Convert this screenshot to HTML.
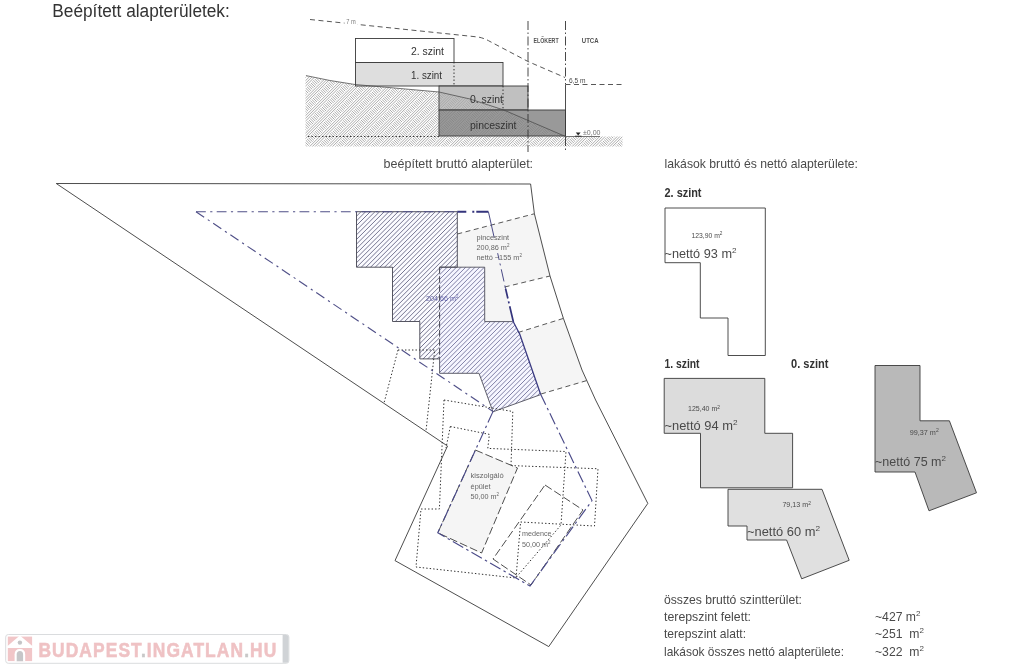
<!DOCTYPE html>
<html lang="hu">
<head>
<meta charset="utf-8">
<title>Beépített alapterületek</title>
<style>
  html, body { margin: 0; padding: 0; background: #ffffff; }
  body { width: 1024px; height: 669px; overflow: hidden; position: relative;
         font-family: "Liberation Sans", sans-serif; }
  svg { position: absolute; left: 0; top: 0; display: block; will-change: transform; }
  text { font-family: "Liberation Sans", sans-serif; }
  .t  { fill: #333333; }
  .tl { fill: #4a4a4a; }
  .ln { stroke: #3a3a3a; stroke-width: 0.9; }
  .nf { fill: none; }
  .dot { stroke: #2e2e2e; stroke-width: 1; fill: none; stroke-dasharray: 1.4 2.1; }
  .dsh { stroke: #444; stroke-width: 0.9; fill: none; stroke-dasharray: 5 3.5; }
  .bl  { stroke: #505088; stroke-width: 1.15; fill: none; stroke-dasharray: 9.8 4.4 2.2 4.3; }
</style>
</head>
<body>
<svg width="1024" height="669" viewBox="0 0 1024 669">
  <defs>
    <clipPath id="earthclip"><path d="M305.5 75.5 L330 80.5 L355 84.5 L400 88.5 L439 92 L470 99 L503.75 110 L565.5 136.5 L622.5 136.5 L622.5 146.5 L305.5 146.5 Z"/></clipPath>
    <clipPath id="bhA"><path d="M356.5 211.7 H457.3 V267.2 H439.6 V358.9 H419.8 V321.5 H392.5 V267.2 H356.5 Z"/></clipPath>
    <clipPath id="bhB"><path d="M439.6 267.2 H484.7 V321.6 H512.5 L519.7 334 L540.7 394.6 L493 411.8 L479 373.3 H439.6 Z"/></clipPath>
  <clipPath id="tickbands"><path d="M140.75 147.75L214.50 74.00L222.80 74.00L149.05 147.75ZM158.25 147.75L232.00 74.00L240.30 74.00L166.55 147.75ZM175.75 147.75L249.50 74.00L257.80 74.00L184.05 147.75ZM193.25 147.75L267.00 74.00L275.30 74.00L201.55 147.75ZM210.75 147.75L284.50 74.00L292.80 74.00L219.05 147.75ZM228.25 147.75L302.00 74.00L310.30 74.00L236.55 147.75ZM245.75 147.75L319.50 74.00L327.80 74.00L254.05 147.75ZM263.25 147.75L337.00 74.00L345.30 74.00L271.55 147.75ZM280.75 147.75L354.50 74.00L362.80 74.00L289.05 147.75ZM298.25 147.75L372.00 74.00L380.30 74.00L306.55 147.75ZM315.75 147.75L389.50 74.00L397.80 74.00L324.05 147.75ZM333.25 147.75L407.00 74.00L415.30 74.00L341.55 147.75ZM350.75 147.75L424.50 74.00L432.80 74.00L359.05 147.75ZM368.25 147.75L442.00 74.00L450.30 74.00L376.55 147.75ZM385.75 147.75L459.50 74.00L467.80 74.00L394.05 147.75ZM403.25 147.75L477.00 74.00L485.30 74.00L411.55 147.75ZM420.75 147.75L494.50 74.00L502.80 74.00L429.05 147.75ZM438.25 147.75L512.00 74.00L520.30 74.00L446.55 147.75ZM455.75 147.75L529.50 74.00L537.80 74.00L464.05 147.75ZM473.25 147.75L547.00 74.00L555.30 74.00L481.55 147.75ZM490.75 147.75L564.50 74.00L572.80 74.00L499.05 147.75ZM508.25 147.75L582.00 74.00L590.30 74.00L516.55 147.75ZM525.75 147.75L599.50 74.00L607.80 74.00L534.05 147.75ZM543.25 147.75L617.00 74.00L625.30 74.00L551.55 147.75ZM560.75 147.75L634.50 74.00L642.80 74.00L569.05 147.75ZM578.25 147.75L652.00 74.00L660.30 74.00L586.55 147.75ZM595.75 147.75L669.50 74.00L677.80 74.00L604.05 147.75ZM613.25 147.75L687.00 74.00L695.30 74.00L621.55 147.75ZM630.75 147.75L704.50 74.00L712.80 74.00L639.05 147.75Z"/></clipPath>
  </defs>

  <!-- ===================== TITLE ===================== -->
  <text x="52.3" y="17.2" font-size="18" class="t" textLength="177.5" lengthAdjust="spacingAndGlyphs">Beépített alapterületek:</text>

  <!-- ===================== SECTION ===================== -->
  <g id="section">
    <!-- ground -->
    <g clip-path="url(#earthclip)"><path d="M133.45 147.75L207.20 74.00M136.15 147.75L209.90 74.00M138.85 147.75L212.60 74.00M150.95 147.75L224.70 74.00M153.65 147.75L227.40 74.00M156.35 147.75L230.10 74.00M168.45 147.75L242.20 74.00M171.15 147.75L244.90 74.00M173.85 147.75L247.60 74.00M185.95 147.75L259.70 74.00M188.65 147.75L262.40 74.00M191.35 147.75L265.10 74.00M203.45 147.75L277.20 74.00M206.15 147.75L279.90 74.00M208.85 147.75L282.60 74.00M220.95 147.75L294.70 74.00M223.65 147.75L297.40 74.00M226.35 147.75L300.10 74.00M238.45 147.75L312.20 74.00M241.15 147.75L314.90 74.00M243.85 147.75L317.60 74.00M255.95 147.75L329.70 74.00M258.65 147.75L332.40 74.00M261.35 147.75L335.10 74.00M273.45 147.75L347.20 74.00M276.15 147.75L349.90 74.00M278.85 147.75L352.60 74.00M290.95 147.75L364.70 74.00M293.65 147.75L367.40 74.00M296.35 147.75L370.10 74.00M308.45 147.75L382.20 74.00M311.15 147.75L384.90 74.00M313.85 147.75L387.60 74.00M325.95 147.75L399.70 74.00M328.65 147.75L402.40 74.00M331.35 147.75L405.10 74.00M343.45 147.75L417.20 74.00M346.15 147.75L419.90 74.00M348.85 147.75L422.60 74.00M360.95 147.75L434.70 74.00M363.65 147.75L437.40 74.00M366.35 147.75L440.10 74.00M378.45 147.75L452.20 74.00M381.15 147.75L454.90 74.00M383.85 147.75L457.60 74.00M395.95 147.75L469.70 74.00M398.65 147.75L472.40 74.00M401.35 147.75L475.10 74.00M413.45 147.75L487.20 74.00M416.15 147.75L489.90 74.00M418.85 147.75L492.60 74.00M430.95 147.75L504.70 74.00M433.65 147.75L507.40 74.00M436.35 147.75L510.10 74.00M448.45 147.75L522.20 74.00M451.15 147.75L524.90 74.00M453.85 147.75L527.60 74.00M465.95 147.75L539.70 74.00M468.65 147.75L542.40 74.00M471.35 147.75L545.10 74.00M483.45 147.75L557.20 74.00M486.15 147.75L559.90 74.00M488.85 147.75L562.60 74.00M500.95 147.75L574.70 74.00M503.65 147.75L577.40 74.00M506.35 147.75L580.10 74.00M518.45 147.75L592.20 74.00M521.15 147.75L594.90 74.00M523.85 147.75L597.60 74.00M535.95 147.75L609.70 74.00M538.65 147.75L612.40 74.00M541.35 147.75L615.10 74.00M553.45 147.75L627.20 74.00M556.15 147.75L629.90 74.00M558.85 147.75L632.60 74.00M570.95 147.75L644.70 74.00M573.65 147.75L647.40 74.00M576.35 147.75L650.10 74.00M588.45 147.75L662.20 74.00M591.15 147.75L664.90 74.00M593.85 147.75L667.60 74.00M605.95 147.75L679.70 74.00M608.65 147.75L682.40 74.00M611.35 147.75L685.10 74.00M623.45 147.75L697.20 74.00M626.15 147.75L699.90 74.00M628.85 147.75L702.60 74.00" stroke="#8c8c8c" stroke-width="0.72" fill="none"/><g clip-path="url(#tickbands)"><path d="M224.00 74.00L297.75 147.75M226.60 74.00L300.35 147.75M229.20 74.00L302.95 147.75M231.80 74.00L305.55 147.75M234.40 74.00L308.15 147.75M237.00 74.00L310.75 147.75M239.60 74.00L313.35 147.75M242.20 74.00L315.95 147.75M244.80 74.00L318.55 147.75M247.40 74.00L321.15 147.75M250.00 74.00L323.75 147.75M252.60 74.00L326.35 147.75M255.20 74.00L328.95 147.75M257.80 74.00L331.55 147.75M260.40 74.00L334.15 147.75M263.00 74.00L336.75 147.75M265.60 74.00L339.35 147.75M268.20 74.00L341.95 147.75M270.80 74.00L344.55 147.75M273.40 74.00L347.15 147.75M276.00 74.00L349.75 147.75M278.60 74.00L352.35 147.75M281.20 74.00L354.95 147.75M283.80 74.00L357.55 147.75M286.40 74.00L360.15 147.75M289.00 74.00L362.75 147.75M291.60 74.00L365.35 147.75M294.20 74.00L367.95 147.75M296.80 74.00L370.55 147.75M299.40 74.00L373.15 147.75M302.00 74.00L375.75 147.75M304.60 74.00L378.35 147.75M307.20 74.00L380.95 147.75M309.80 74.00L383.55 147.75M312.40 74.00L386.15 147.75M315.00 74.00L388.75 147.75M317.60 74.00L391.35 147.75M320.20 74.00L393.95 147.75M322.80 74.00L396.55 147.75M325.40 74.00L399.15 147.75M328.00 74.00L401.75 147.75M330.60 74.00L404.35 147.75M333.20 74.00L406.95 147.75M335.80 74.00L409.55 147.75M338.40 74.00L412.15 147.75M341.00 74.00L414.75 147.75M343.60 74.00L417.35 147.75M346.20 74.00L419.95 147.75M348.80 74.00L422.55 147.75M351.40 74.00L425.15 147.75M354.00 74.00L427.75 147.75M356.60 74.00L430.35 147.75M359.20 74.00L432.95 147.75M361.80 74.00L435.55 147.75M364.40 74.00L438.15 147.75M367.00 74.00L440.75 147.75M369.60 74.00L443.35 147.75M372.20 74.00L445.95 147.75M374.80 74.00L448.55 147.75M377.40 74.00L451.15 147.75M380.00 74.00L453.75 147.75M382.60 74.00L456.35 147.75M385.20 74.00L458.95 147.75M387.80 74.00L461.55 147.75M390.40 74.00L464.15 147.75M393.00 74.00L466.75 147.75M395.60 74.00L469.35 147.75M398.20 74.00L471.95 147.75M400.80 74.00L474.55 147.75M403.40 74.00L477.15 147.75M406.00 74.00L479.75 147.75M408.60 74.00L482.35 147.75M411.20 74.00L484.95 147.75M413.80 74.00L487.55 147.75M416.40 74.00L490.15 147.75M419.00 74.00L492.75 147.75M421.60 74.00L495.35 147.75M424.20 74.00L497.95 147.75M426.80 74.00L500.55 147.75M429.40 74.00L503.15 147.75M432.00 74.00L505.75 147.75M434.60 74.00L508.35 147.75M437.20 74.00L510.95 147.75M439.80 74.00L513.55 147.75M442.40 74.00L516.15 147.75M445.00 74.00L518.75 147.75M447.60 74.00L521.35 147.75M450.20 74.00L523.95 147.75M452.80 74.00L526.55 147.75M455.40 74.00L529.15 147.75M458.00 74.00L531.75 147.75M460.60 74.00L534.35 147.75M463.20 74.00L536.95 147.75M465.80 74.00L539.55 147.75M468.40 74.00L542.15 147.75M471.00 74.00L544.75 147.75M473.60 74.00L547.35 147.75M476.20 74.00L549.95 147.75M478.80 74.00L552.55 147.75M481.40 74.00L555.15 147.75M484.00 74.00L557.75 147.75M486.60 74.00L560.35 147.75M489.20 74.00L562.95 147.75M491.80 74.00L565.55 147.75M494.40 74.00L568.15 147.75M497.00 74.00L570.75 147.75M499.60 74.00L573.35 147.75M502.20 74.00L575.95 147.75M504.80 74.00L578.55 147.75M507.40 74.00L581.15 147.75M510.00 74.00L583.75 147.75M512.60 74.00L586.35 147.75M515.20 74.00L588.95 147.75M517.80 74.00L591.55 147.75M520.40 74.00L594.15 147.75M523.00 74.00L596.75 147.75M525.60 74.00L599.35 147.75M528.20 74.00L601.95 147.75M530.80 74.00L604.55 147.75M533.40 74.00L607.15 147.75M536.00 74.00L609.75 147.75M538.60 74.00L612.35 147.75M541.20 74.00L614.95 147.75M543.80 74.00L617.55 147.75M546.40 74.00L620.15 147.75M549.00 74.00L622.75 147.75M551.60 74.00L625.35 147.75M554.20 74.00L627.95 147.75M556.80 74.00L630.55 147.75M559.40 74.00L633.15 147.75M562.00 74.00L635.75 147.75M564.60 74.00L638.35 147.75M567.20 74.00L640.95 147.75M569.80 74.00L643.55 147.75M572.40 74.00L646.15 147.75M575.00 74.00L648.75 147.75M577.60 74.00L651.35 147.75M580.20 74.00L653.95 147.75M582.80 74.00L656.55 147.75M585.40 74.00L659.15 147.75M588.00 74.00L661.75 147.75M590.60 74.00L664.35 147.75M593.20 74.00L666.95 147.75M595.80 74.00L669.55 147.75M598.40 74.00L672.15 147.75M601.00 74.00L674.75 147.75M603.60 74.00L677.35 147.75M606.20 74.00L679.95 147.75M608.80 74.00L682.55 147.75M611.40 74.00L685.15 147.75M614.00 74.00L687.75 147.75M616.60 74.00L690.35 147.75M619.20 74.00L692.95 147.75M621.80 74.00L695.55 147.75M624.40 74.00L698.15 147.75M627.00 74.00L700.75 147.75M629.60 74.00L703.35 147.75M632.20 74.00L705.95 147.75" stroke="#8c8c8c" stroke-width="0.72" fill="none"/></g></g>
    <!-- level boxes -->
    <rect x="355.5" y="38.5" width="98.5" height="24" fill="#ffffff" class="ln"/>
    <rect x="355.5" y="62.5" width="147.5" height="23.5" fill="#dedede" fill-opacity="1" class="ln"/>
    <rect x="439" y="86" width="89" height="24" fill="#a8a8a8" fill-opacity="0.72" class="ln"/>
    <rect x="439" y="110" width="126.5" height="26" fill="#808080" fill-opacity="0.8" class="ln"/>
    <!-- terrain line -->
    <path d="M306 75.6 L330 80.5 L355 84.5 L400 88.5 L439 92 L470 99 L503.75 110 L565.5 136.5 L600 136.5" fill="none" stroke="#4a4a4a" stroke-width="0.75"/>
    <!-- dotted inner verticals -->
    <path d="M454 62V86M503 86V110" class="dot"/>
    <!-- dotted datum line -->
    <path d="M308 136.5H439" class="dot"/>
    <!-- 7 m dashed envelope -->
    <path d="M310 19.5 L478 37 Q484 38 490 41.5 L528 61.5 L565 77.5" class="dsh" stroke-width="0.8"/>
    <!-- 6,5 m dashed -->
    <path d="M565.5 84.5H623" class="dsh" stroke-width="0.8"/>
    <!-- street wall -->
    <path d="M565.5 84.5V136.5" class="ln nf"/>
    <!-- dash-dot verticals -->
    <path d="M528 21V152M565.5 21V84M565.5 137V152" stroke="#333" stroke-width="0.9" fill="none" stroke-dasharray="9 2.5 1.5 2.5"/>
    <!-- +-0,00 marker -->
    <path d="M575.8 132.6H580.6L578.2 135.4Z" fill="#222"/>
    <path d="M575 136.2H581.5" stroke="#222" stroke-width="0.8"/>
    <!-- labels -->
    <text x="411" y="54.6" font-size="11.5" class="t" textLength="33" lengthAdjust="spacingAndGlyphs">2. szint</text>
    <text x="411" y="78.5" font-size="11.5" class="t" textLength="31" lengthAdjust="spacingAndGlyphs">1. szint</text>
    <text x="470" y="103" font-size="11.5" class="t" textLength="33" lengthAdjust="spacingAndGlyphs">0. szint</text>
    <text x="470" y="129" font-size="11.5" class="t" textLength="46.5" lengthAdjust="spacingAndGlyphs">pinceszint</text>
    <text x="533.6" y="43" font-size="7.4" font-weight="bold" class="t" fill-opacity="0.85" textLength="25" lengthAdjust="spacingAndGlyphs">ELŐKERT</text>
    <text x="581.8" y="43" font-size="7.4" font-weight="bold" class="t" fill-opacity="0.85" textLength="16.8" lengthAdjust="spacingAndGlyphs">UTCA</text>
    <rect x="344.5" y="18.5" width="13" height="7.5" fill="#fff"/><text x="346.2" y="24.3" font-size="6.5" class="tl" fill-opacity="0.75" textLength="9.5" lengthAdjust="spacingAndGlyphs">7 m</text>
    <text x="569" y="82.6" font-size="7" class="tl" textLength="16.5" lengthAdjust="spacingAndGlyphs">6,5 m</text>
    <text x="583" y="135.4" font-size="7" class="tl" fill-opacity="0.8" textLength="17.5" lengthAdjust="spacingAndGlyphs">±0,00</text>
  </g>

  <!-- ===================== SITE PLAN ===================== -->
  <g id="site">
    <text x="383.6" y="168.3" font-size="12.2" class="tl" textLength="149.5" lengthAdjust="spacingAndGlyphs">beépített bruttó alapterület:</text>

    <!-- light grey front-garden zones -->
    <path d="M457.3 234 L534.4 213.75 L550 276 L504.7 287 L505.6 288.75 L513.4 322 H484.6 V267.2 H457.3 Z" fill="#f5f5f5"/>
    <path d="M518 332.5 L563.4 318.4 L582 370 L587 381 L540 394 Z" fill="#f5f5f5"/>

    <!-- plot boundary -->
    <path d="M56.25 183.5 L530.6 184 L534.4 213.75 L550 276 L563.4 318.4 L582 370 L595.6 400 L647.8 503.4 L548.75 646.6 L395 560.6 L447.5 446 Z" class="ln nf" stroke-width="0.85"/>

    <!-- hatched main building -->
    <path d="M356.5 211.7 H457.3 V267.2 H439.6 V358.9 H419.8 V321.5 H392.5 V267.2 H356.5 Z" fill="#fbfbff"/>
    <path d="M439.6 267.2 H484.7 V321.6 H512.5 L519.7 334 L540.7 394.6 L493 411.8 L479 373.3 H439.6 Z" fill="#f6f6ff"/>
    <g clip-path="url(#bhA)"><path d="M355.0 208.40L460.0 103.40M355.0 213.05L460.0 108.05M355.0 217.70L460.0 112.70M355.0 222.35L460.0 117.35M355.0 227.00L460.0 122.00M355.0 231.65L460.0 126.65M355.0 236.30L460.0 131.30M355.0 240.95L460.0 135.95M355.0 245.60L460.0 140.60M355.0 250.25L460.0 145.25M355.0 254.90L460.0 149.90M355.0 259.55L460.0 154.55M355.0 264.20L460.0 159.20M355.0 268.85L460.0 163.85M355.0 273.50L460.0 168.50M355.0 278.15L460.0 173.15M355.0 282.80L460.0 177.80M355.0 287.45L460.0 182.45M355.0 292.10L460.0 187.10M355.0 296.75L460.0 191.75M355.0 301.40L460.0 196.40M355.0 306.05L460.0 201.05M355.0 310.70L460.0 205.70M355.0 315.35L460.0 210.35M355.0 320.00L460.0 215.00M355.0 324.65L460.0 219.65M355.0 329.30L460.0 224.30M355.0 333.95L460.0 228.95M355.0 338.60L460.0 233.60M355.0 343.25L460.0 238.25M355.0 347.90L460.0 242.90M355.0 352.55L460.0 247.55M355.0 357.20L460.0 252.20M355.0 361.85L460.0 256.85M355.0 366.50L460.0 261.50M355.0 371.15L460.0 266.15M355.0 375.80L460.0 270.80M355.0 380.45L460.0 275.45M355.0 385.10L460.0 280.10M355.0 389.75L460.0 284.75M355.0 394.40L460.0 289.40M355.0 399.05L460.0 294.05M355.0 403.70L460.0 298.70M355.0 408.35L460.0 303.35M355.0 413.00L460.0 308.00M355.0 417.65L460.0 312.65M355.0 422.30L460.0 317.30M355.0 426.95L460.0 321.95M355.0 431.60L460.0 326.60M355.0 436.25L460.0 331.25M355.0 440.90L460.0 335.90M355.0 445.55L460.0 340.55M355.0 450.20L460.0 345.20M355.0 454.85L460.0 349.85M355.0 459.50L460.0 354.50M355.0 464.15L460.0 359.15M355.0 468.80L460.0 363.80" stroke="#70708c" stroke-width="0.96" fill="none"/></g>
    <g clip-path="url(#bhB)"><path d="M438.0 262.40L543.0 157.40M438.0 267.05L543.0 162.05M438.0 271.70L543.0 166.70M438.0 276.35L543.0 171.35M438.0 281.00L543.0 176.00M438.0 285.65L543.0 180.65M438.0 290.30L543.0 185.30M438.0 294.95L543.0 189.95M438.0 299.60L543.0 194.60M438.0 304.25L543.0 199.25M438.0 308.90L543.0 203.90M438.0 313.55L543.0 208.55M438.0 318.20L543.0 213.20M438.0 322.85L543.0 217.85M438.0 327.50L543.0 222.50M438.0 332.15L543.0 227.15M438.0 336.80L543.0 231.80M438.0 341.45L543.0 236.45M438.0 346.10L543.0 241.10M438.0 350.75L543.0 245.75M438.0 355.40L543.0 250.40M438.0 360.05L543.0 255.05M438.0 364.70L543.0 259.70M438.0 369.35L543.0 264.35M438.0 374.00L543.0 269.00M438.0 378.65L543.0 273.65M438.0 383.30L543.0 278.30M438.0 387.95L543.0 282.95M438.0 392.60L543.0 287.60M438.0 397.25L543.0 292.25M438.0 401.90L543.0 296.90M438.0 406.55L543.0 301.55M438.0 411.20L543.0 306.20M438.0 415.85L543.0 310.85M438.0 420.50L543.0 315.50M438.0 425.15L543.0 320.15M438.0 429.80L543.0 324.80M438.0 434.45L543.0 329.45M438.0 439.10L543.0 334.10M438.0 443.75L543.0 338.75M438.0 448.40L543.0 343.40M438.0 453.05L543.0 348.05M438.0 457.70L543.0 352.70M438.0 462.35L543.0 357.35M438.0 467.00L543.0 362.00M438.0 471.65L543.0 366.65M438.0 476.30L543.0 371.30M438.0 480.95L543.0 375.95M438.0 485.60L543.0 380.60M438.0 490.25L543.0 385.25M438.0 494.90L543.0 389.90M438.0 499.55L543.0 394.55M438.0 504.20L543.0 399.20M438.0 508.85L543.0 403.85M438.0 513.50L543.0 408.50M438.0 518.15L543.0 413.15M438.0 522.80L543.0 417.80" stroke="#8080a6" stroke-width="1.0" fill="none"/></g>
    <path d="M439.6 267.2 H457.3 V211.7 H356.5 V267.2 H392.5 V321.5 H419.8 V358.9 H439.6" fill="none" stroke="#444450" stroke-width="0.9"/>
    <path d="M439.6 267.2 H484.7 V321.6 H512.5 M540.7 394.6 L493 411.8 L479 373.3 H439.6 V358.9" fill="none" stroke="#50505c" stroke-width="0.9"/>
    <path d="M439.6 267.2V358.9" stroke="#444450" stroke-width="1" stroke-dasharray="6.5 2.5"/>

    <!-- dashed cross lines in front garden -->
    <path d="M457.3 234L534.4 213.75M504.7 287L550 276M518 332.5L563.4 318.4M541 394L587 380.5" class="dsh" stroke-width="0.85"/>

    <!-- dotted outlines -->
    <path d="M398 350H434.7L426 431M398 350L384 403" class="dot"/>
    <path d="M444 400L512.8 411.5L511 465.6M444 400L439.4 509 H421 L416 567 L516 578" class="dot"/>
    <path d="M450.3 426.5L489.4 434.4L487.8 448.4L566 451.5L561 525L516 577.5" class="dot"/>
    <path d="M450.3 426.5L446 448" class="dot"/>
    <path d="M511 465.6L598 468.75L594.5 526L520.6 522L516 578" class="dot"/>

    <!-- service building -->
    <path d="M475.3 450 L517.5 468 L481.6 553 L437.8 532.8 Z" fill="#f5f5f5" stroke="#3a3a3a" stroke-width="0.9" stroke-dasharray="8 3"/>
    <!-- pool -->
    <path d="M545 485 L583 510 L531 585 L493 559 Z" fill="none" stroke="#3a3a3a" stroke-width="0.9" stroke-dasharray="8 3"/>

    <!-- blue building-zone line -->
    <path d="M196 211.7 H457.3" class="bl"/>
    <path d="M196 211.7 L493 411.5" class="bl"/>
    <path d="M457.3 211.7H488.4" stroke="#34347c" stroke-width="1.9" stroke-dasharray="9 6 2 2 12.5 3" fill="none"/>
    <path d="M488.4 211.7 L505.6 288.75" stroke="#4a4a86" stroke-width="1" stroke-dasharray="26.5 16 7 3.5 2 4 12.5 4" fill="none"/>
    <path d="M505.6 288.75 L513.4 322" stroke="#34347c" stroke-width="1.7" stroke-dasharray="10 3 2 3 20 3" fill="none"/>
    <path d="M513.4 322 L519.7 334 L540.5 394" stroke="#3c3c82" stroke-width="1.3" fill="none"/>
    <path d="M540.5 394 L592 500.6 L530 586 L437.8 532.8 L493 411.5" stroke="#4a4a88" stroke-width="1.15" fill="none" stroke-dasharray="12 3.5 2.5 3.5"/>

    <!-- labels -->
    <g font-size="8" class="tl" fill-opacity="0.85">
      <text x="476.5" y="240" textLength="32.5" lengthAdjust="spacingAndGlyphs">pinceszint</text>
      <text x="476.5" y="249.8" textLength="33" lengthAdjust="spacingAndGlyphs">200,86 m<tspan font-size="5" dy="-3">2</tspan></text>
      <text x="476.5" y="259.6" textLength="45.5" lengthAdjust="spacingAndGlyphs">nettó ~155 m<tspan font-size="5" dy="-3">2</tspan></text>
      <text x="470.6" y="478" textLength="33" lengthAdjust="spacingAndGlyphs">kiszolgáló</text>
      <text x="470.6" y="488.6" textLength="20" lengthAdjust="spacingAndGlyphs">épület</text>
      <text x="470.6" y="499.4" textLength="28.5" lengthAdjust="spacingAndGlyphs">50,00 m<tspan font-size="5" dy="-3">2</tspan></text>
      <text x="522" y="535.6" textLength="29.5" lengthAdjust="spacingAndGlyphs">medence</text>
      <text x="522" y="546.6" textLength="28.5" lengthAdjust="spacingAndGlyphs">50,00 m<tspan font-size="5" dy="-3">2</tspan></text>
    </g>
    <text x="426" y="301" font-size="8" fill="#4a4a9a" fill-opacity="0.85" textLength="32.5" lengthAdjust="spacingAndGlyphs">204,66 m<tspan font-size="5" dy="-3">2</tspan></text>
  </g>

  <!-- ===================== FLOOR PLANS (RIGHT) ===================== -->
  <g id="plans">
    <text x="664.5" y="168.3" font-size="12.2" class="tl" textLength="193.5" lengthAdjust="spacingAndGlyphs">lakások bruttó és nettó alapterülete:</text>
    <text x="664.5" y="197" font-size="12.5" font-weight="bold" class="t" textLength="37" lengthAdjust="spacingAndGlyphs">2. szint</text>
    <text x="664.5" y="368" font-size="12.5" font-weight="bold" class="t" textLength="35" lengthAdjust="spacingAndGlyphs">1. szint</text>
    <text x="791" y="368" font-size="12.5" font-weight="bold" class="t" textLength="37.5" lengthAdjust="spacingAndGlyphs">0. szint</text>

    <!-- 2. szint -->
    <path d="M665 208 H765.3 V355.5 H728 V318 H700.3 V262.7 H665 Z" fill="#ffffff" class="ln"/>
    <!-- 1. szint upper -->
    <path d="M664.2 378.4 H764.8 V433.3 H792.6 V487.8 H700.5 V433.3 H664.2 Z" fill="#dcdcdc" class="ln"/>
    <!-- 1. szint lower -->
    <path d="M728 489.3 H822 L849.2 560.3 L801.7 578.8 L786.6 540 H747 V526 H728 Z" fill="#e0e0e0" class="ln"/>
    <!-- 0. szint -->
    <path d="M875 365.5 H920 V420.8 H949.4 L976.5 492.8 L929 510.8 L915 472 H875 Z" fill="#b9b9b9" class="ln"/>

    <g font-size="6.5" class="tl">
      <text x="691.5" y="237.5" textLength="31" lengthAdjust="spacingAndGlyphs">123,90 m<tspan font-size="4.5" dy="-2.5">2</tspan></text>
      <text x="688" y="411" textLength="32" lengthAdjust="spacingAndGlyphs">125,40 m<tspan font-size="4.5" dy="-2.5">2</tspan></text>
      <text x="782.4" y="507.3" textLength="28.5" lengthAdjust="spacingAndGlyphs">79,13 m<tspan font-size="4.5" dy="-2.5">2</tspan></text>
      <text x="909.7" y="434.8" textLength="29" lengthAdjust="spacingAndGlyphs">99,37 m<tspan font-size="4.5" dy="-2.5">2</tspan></text>
    </g>
    <g font-size="12.5" class="tl">
      <text x="664.5" y="257.8" textLength="72" lengthAdjust="spacingAndGlyphs">~nettó 93 m<tspan font-size="8" dy="-5">2</tspan></text>
      <text x="664.5" y="429.5" textLength="73" lengthAdjust="spacingAndGlyphs">~nettó 94 m<tspan font-size="8" dy="-5">2</tspan></text>
      <text x="747" y="535.7" textLength="73" lengthAdjust="spacingAndGlyphs">~nettó 60 m<tspan font-size="8" dy="-5">2</tspan></text>
      <text x="875" y="466" textLength="71" lengthAdjust="spacingAndGlyphs">~nettó 75 m<tspan font-size="8" dy="-5">2</tspan></text>
    </g>

    <!-- totals -->
    <g font-size="12.2" class="tl">
      <text x="664" y="603.8" textLength="138" lengthAdjust="spacingAndGlyphs">összes bruttó szintterület:</text>
      <text x="664" y="620.8" textLength="87" lengthAdjust="spacingAndGlyphs">terepszint felett:</text>
      <text x="664" y="638.3" textLength="82" lengthAdjust="spacingAndGlyphs">terepszint alatt:</text>
      <text x="664" y="655.8" textLength="180" lengthAdjust="spacingAndGlyphs">lakások összes nettó alapterülete:</text>
      <text x="875" y="620.8">~427 m<tspan font-size="8" dy="-5">2</tspan></text>
      <text x="875" y="638.3">~251&#160; m<tspan font-size="8" dy="-5">2</tspan></text>
      <text x="875" y="655.8">~322&#160; m<tspan font-size="8" dy="-5">2</tspan></text>
    </g>
  </g>

  <!-- ===================== WATERMARK LOGO ===================== -->
  <g id="logo">
    <rect x="5.7" y="634.5" width="283.2" height="28.8" rx="2.6" fill="#ffffff" stroke="#dadcde" stroke-width="1"/>
    <path d="M282.6 635H286.5Q288.6 635 288.6 637.2V660.6Q288.6 662.8 286.5 662.8H282.6Z" fill="#d0d3d6"/>
    <!-- house icon -->
    <rect x="7.8" y="636.6" width="24.3" height="24.5" fill="#f1c6c8"/>
    <path d="M19.9 635.6 L7.2 646.3 V648.1 H32.7 V646.3 Z" fill="#ffffff"/>
    <path d="M14.6 661.2V654.4Q14.6 648.9 19.9 648.9Q25.2 648.9 25.2 654.4V661.2Z" fill="#ffffff"/>
    <path d="M16.7 661.2V654.6Q16.7 651 19.9 651Q23.1 651 23.1 654.6V661.2Z" fill="#c6c6c8"/>
    <circle cx="19.9" cy="642.6" r="2.2" fill="#c4c4c6"/>
    <text x="38.4" y="656.6" font-size="20.6" font-weight="bold" fill="#efc2c4" stroke="#efc2c4" stroke-width="0.55" letter-spacing="1.3" textLength="239" lengthAdjust="spacingAndGlyphs">BUDAPEST<tspan fill="#c8c8c8" stroke="#c8c8c8">.</tspan>INGATLAN<tspan fill="#c8c8c8" stroke="#c8c8c8">.</tspan>HU</text>
  </g>
</svg>
</body>
</html>
